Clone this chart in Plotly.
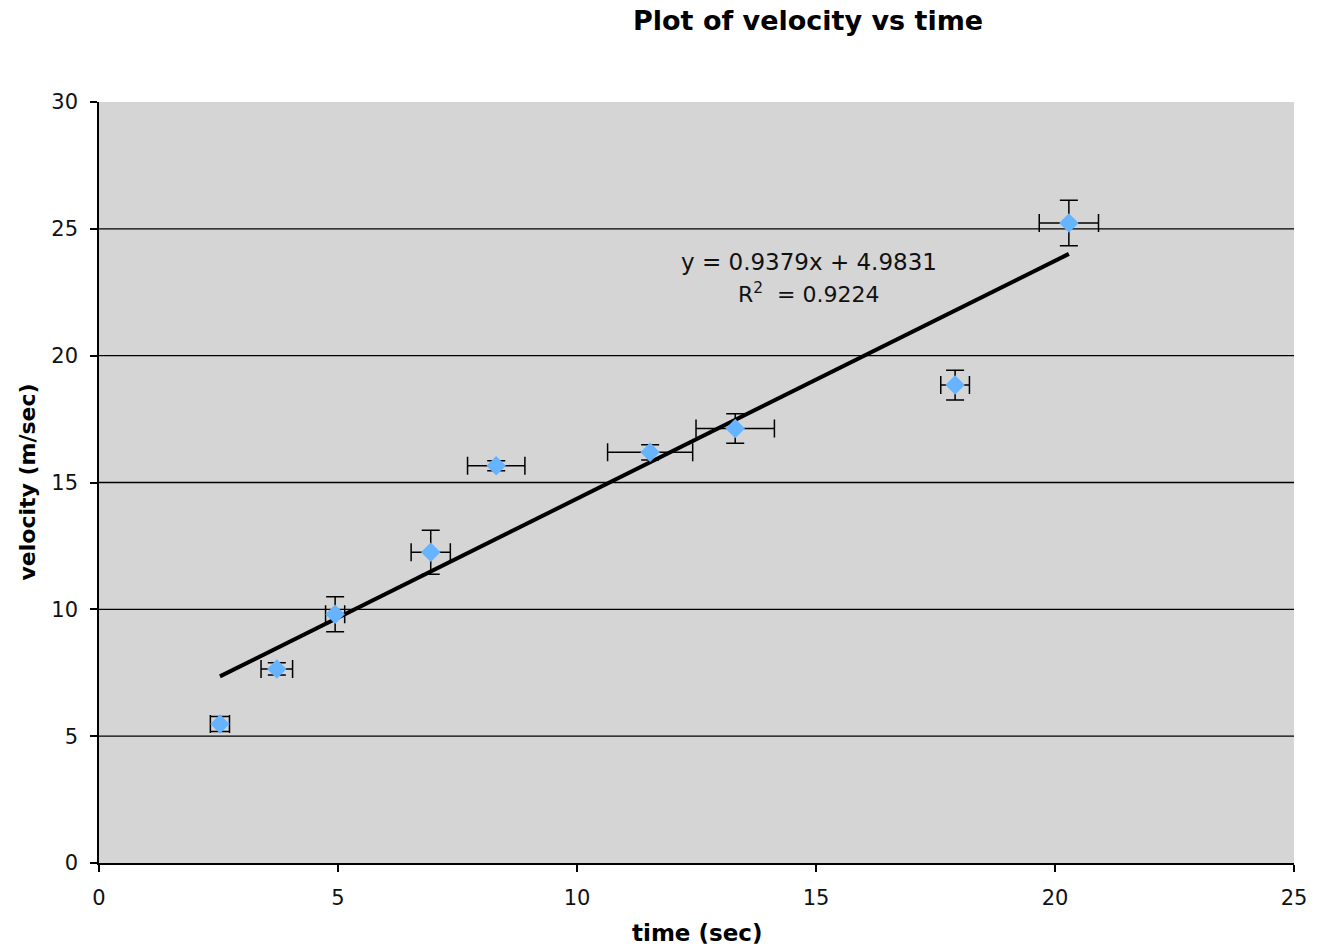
import numpy as np
import plotly.graph_objects as go

# ---- data ----
time_sec = [2.53, 3.72, 4.94, 6.94, 8.31, 11.53, 13.31, 17.91, 20.29]
velocity = [5.48, 7.65, 9.81, 12.25, 15.66, 16.19, 17.13, 18.84, 25.23]
time_err = [0.20, 0.33, 0.20, 0.41, 0.60, 0.89, 0.82, 0.30, 0.62]
vel_err = [0.30, 0.24, 0.69, 0.87, 0.20, 0.30, 0.58, 0.59, 0.90]

slope = 0.9379
intercept = 4.9831
r2 = 0.9224

x_ticks = [0, 5, 10, 15, 20, 25]
y_ticks = [0, 5, 10, 15, 20, 25, 30]

FONT = "DejaVu Sans"

fig = go.Figure()

# trend line
xt = np.array([min(time_sec), max(time_sec)])
fig.add_trace(go.Scatter(
    x=xt, y=slope * xt + intercept, mode="lines",
    line=dict(color="black", width=4), showlegend=False, hoverinfo="skip"))

# data points with error bars
fig.add_trace(go.Scatter(
    x=time_sec, y=velocity, mode="markers",
    marker=dict(symbol="diamond", size=15, color="#66b3ff"),
    error_x=dict(type="data", array=time_err, color="black", thickness=1.5, width=9),
    error_y=dict(type="data", array=vel_err, color="black", thickness=1.5, width=9),
    showlegend=False))

# horizontal gridlines (excluding axis edges)
shapes = []
for v in y_ticks[1:-1]:
    shapes.append(dict(type="line", xref="paper", x0=0, x1=1, yref="y", y0=v, y1=v,
                       line=dict(color="black", width=1.4), layer="below"))

fig.update_layout(
    width=1324, height=947,
    margin=dict(l=99, r=30, t=102, b=84),
    paper_bgcolor="white",
    plot_bgcolor="#d5d5d5",
    font=dict(family=FONT, size=20, color="black"),
    shapes=shapes,
    xaxis=dict(range=[0, 25], tickvals=x_ticks, showgrid=False, zeroline=False,
               showline=True, linecolor="black", linewidth=1.5,
               ticks="outside", ticklen=7, tickcolor="black", tickwidth=1.5,
               ticklabelstandoff=8,
               tickfont=dict(family=FONT, size=21, color="#111111")),
    yaxis=dict(range=[0, 30], tickvals=y_ticks, showgrid=False, zeroline=False,
               showline=True, linecolor="black", linewidth=1.5,
               ticks="outside", ticklen=7, tickcolor="black", tickwidth=1.5,
               ticklabelstandoff=8,
               tickfont=dict(family=FONT, size=21, color="#111111")),
    annotations=[
        dict(text="<b>Plot of velocity vs time</b>", xref="paper", yref="paper",
             x=(808 - 99) / 1195, y=1, yshift=82, xanchor="center", yanchor="middle",
             borderpad=0, showarrow=False, font=dict(family=FONT, size=27)),
        dict(text="<b>time (sec)</b>", xref="paper", yref="paper",
             x=0.5, y=0, yshift=-70, xanchor="center", yanchor="middle",
             borderpad=0, showarrow=False, font=dict(family=FONT, size=23)),
        dict(text="<b>velocity (m/sec)</b>", xref="paper", yref="paper",
             x=0, xshift=-72, y=0.5, textangle=-90,
             xanchor="center", yanchor="middle",
             showarrow=False, font=dict(family=FONT, size=22)),
        dict(text=f"y = {slope}x + {intercept}", xref="x", yref="y",
             x=14.85, y=23.69, xanchor="center", yanchor="middle",
             showarrow=False, font=dict(family=FONT, size=23, color="#111111")),
        dict(text=f"R<sup>2</sup>  = {r2}", xref="x", yref="y",
             x=14.85, y=22.47, xanchor="center", yanchor="middle",
             showarrow=False, font=dict(family=FONT, size=22, color="#111111")),
    ],
)

fig.write_html("out.html",
               config={"displayModeBar": False},
               post_script="document.body.style.margin='0';document.body.style.padding='0';")
